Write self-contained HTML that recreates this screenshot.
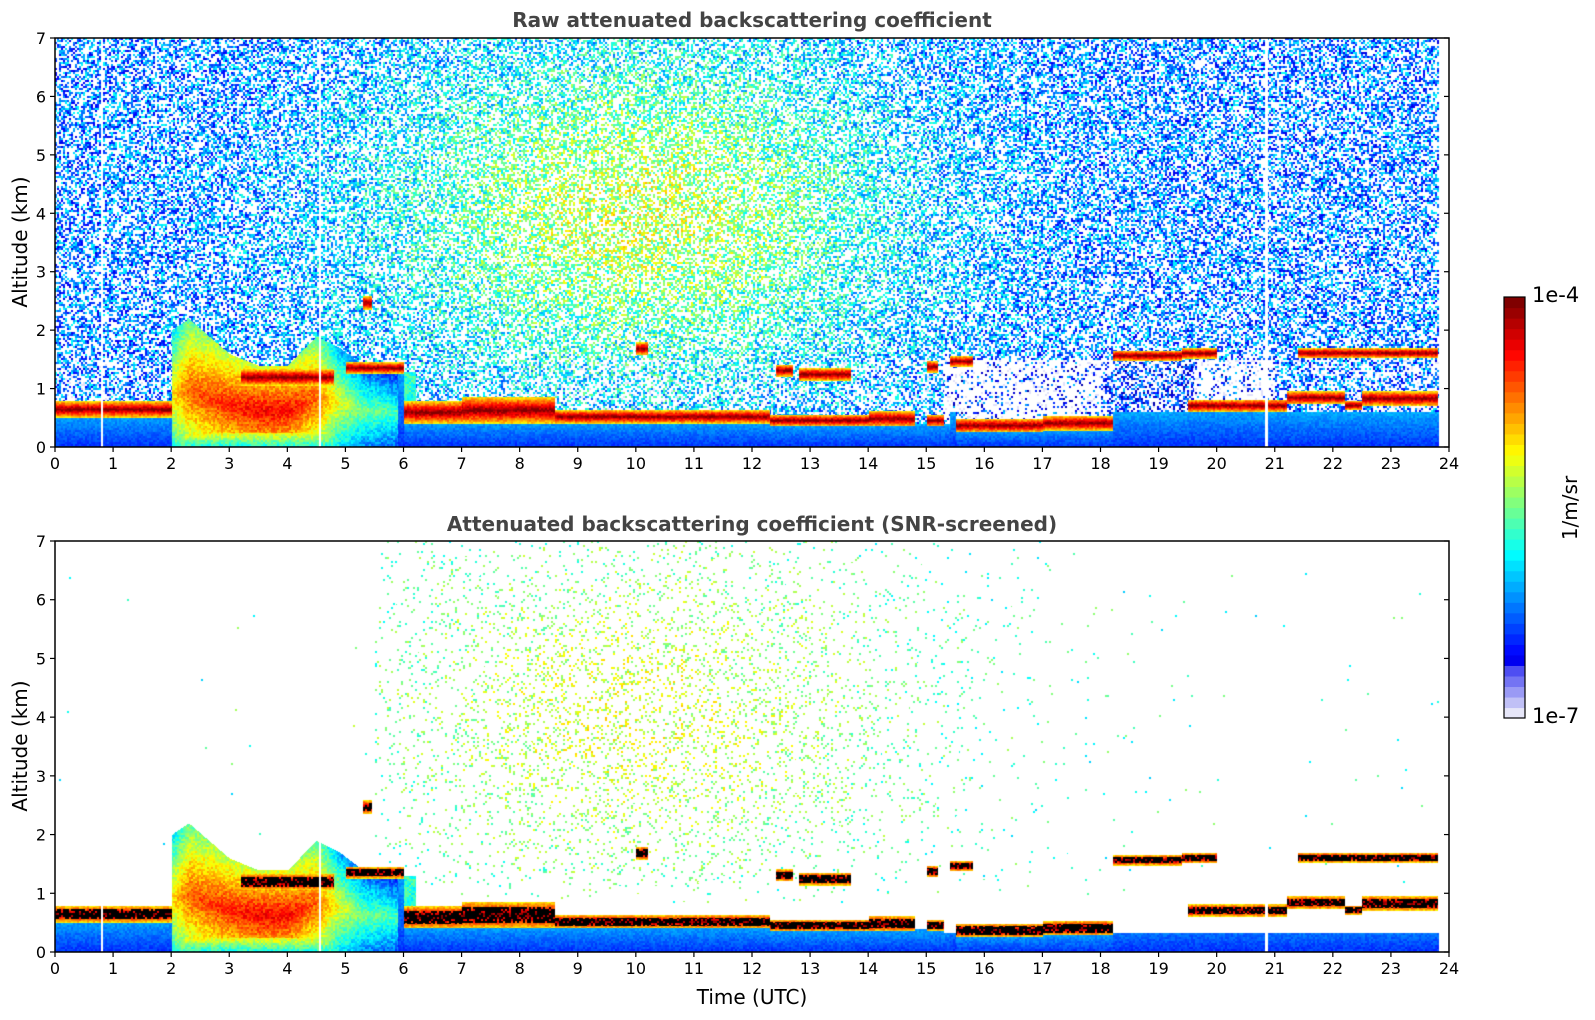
<!DOCTYPE html>
<html><head><meta charset="utf-8">
<style>
html,body{margin:0;padding:0;background:#fff;}
#root{position:relative;width:1595px;height:1020px;font-family:"DejaVu Sans","Liberation Sans",sans-serif;color:#000;overflow:hidden}
canvas{position:absolute}
.t{position:absolute;white-space:nowrap}
</style></head>
<body>
<div id="root">
<canvas id="c1" style="left:55px;top:38px" width="1394" height="409"></canvas>
<canvas id="c2" style="left:55px;top:541px" width="1394" height="411"></canvas>
<svg id="ov" width="1595" height="1020" style="position:absolute;left:0;top:0"></svg>
<div class="t" style="left:0;width:1504px;text-align:center;top:8px;font-size:20px;font-weight:bold;color:#444">Raw attenuated backscattering coefficient</div>
<div class="t" style="left:0;width:1504px;text-align:center;top:512px;font-size:20px;font-weight:bold;color:#444">Attenuated backscattering coefficient (SNR-screened)</div>
<div class="t" style="left:55px;width:1394px;text-align:center;top:985px;font-size:20px">Time (UTC)</div>
<div class="t" style="left:20px;top:242px;font-size:20px;transform:translate(-50%,-50%) rotate(-90deg)">Altitude (km)</div>
<div class="t" style="left:20px;top:746px;font-size:20px;transform:translate(-50%,-50%) rotate(-90deg)">Altitude (km)</div>
<div class="t" style="left:1532px;top:283px;font-size:21px">1e-4</div>
<div class="t" style="left:1532px;top:704px;font-size:21px">1e-7</div>
<div class="t" style="left:1570px;top:508px;font-size:20px;transform:translate(-50%,-50%) rotate(-90deg)">1/m/sr</div>
</div>
<script>
// ---- data ----
const layerStart = [0.0, 3.2, 5.0, 6.0, 7.0, 8.6, 12.3, 14.0, 15.0, 15.5, 17.0, 19.5, 21.2, 22.2, 22.5, 12.4, 12.8, 15.0, 15.4, 18.2, 19.4, 21.4, 10.0, 5.3];
const layerEnd   = [2.0, 4.8, 6.0, 7.0, 8.6, 12.3, 14.0, 14.8, 15.3, 17.0, 18.2, 21.2, 22.2, 22.5, 23.8, 12.7, 13.7, 15.2, 15.8, 19.4, 20.0, 23.8, 10.2, 5.45];
const layerBase  = [0.55, 1.1, 1.30, 0.45, 0.45, 0.45, 0.40, 0.40, 0.40, 0.30, 0.33, 0.65, 0.78, 0.68, 0.75, 1.25, 1.18, 1.32, 1.42, 1.52, 1.56, 1.57, 1.62, 2.40];
const layerTop   = [0.75, 1.3, 1.42, 0.75, 0.82, 0.60, 0.52, 0.58, 0.52, 0.45, 0.50, 0.78, 0.92, 0.76, 0.92, 1.38, 1.32, 1.44, 1.52, 1.62, 1.66, 1.66, 1.76, 2.55];
const aeroHours = [2.0, 2.3, 3.0, 3.5, 4.0, 4.5, 4.9, 5.3, 5.9];
const aeroTops  = [2.0, 2.2, 1.6, 1.4, 1.4, 1.9, 1.7, 1.4, 1.3];
const aeroCore  = [0.65, 0.78, 0.85, 0.88, 0.88, 0.78, 0.6, 0.5, 0.45];
const gapHours = [0.8, 4.55, 20.85];
const xTicks = [0,1,2,3,4,5,6,7,8,9,10,11,12,13,14,15,16,17,18,19,20,21,22,23,24];
const yTicks = [0,1,2,3,4,5,6,7];

function jet(t){t=Math.max(0,Math.min(1,t));
  const r=Math.min(4*t-1.5,-4*t+4.5),g=Math.min(4*t-0.5,-4*t+3.5),b=Math.min(4*t+0.5,-4*t+2.5);
  return [Math.max(0,Math.min(1,r))*255,Math.max(0,Math.min(1,g))*255,Math.max(0,Math.min(1,b))*255];}
function interp(xs,ys,x){if(x<=xs[0])return ys[0];for(let i=1;i<xs.length;i++){if(x<=xs[i]){const f=(x-xs[i-1])/(xs[i]-xs[i-1]);return ys[i-1]+f*(ys[i]-ys[i-1]);}}return ys[ys.length-1];}
// deterministic texture hash (speckle only)
function hsh(a,b){let n=(a*374761393+b*668265263)|0;n=(n^(n>>>13))*1274126177|0;n=n^(n>>>16);return ((n>>>0)%10000)/10000;}
function layerAt(h,km){for(let i=0;i<layerStart.length;i++){if(h>=layerStart[i]&&h<=layerEnd[i]&&km>=layerBase[i]-0.04&&km<=layerTop[i]+0.04){const mid=(layerBase[i]+layerTop[i])/2,half=(layerTop[i]-layerBase[i])/2;return {rel:Math.abs(km-mid)/(half+0.04)};}}return null;}
function groundTop(h){let g=0.6;if(h>=6&&h<15.4)g=interp([6,8.6,12.3,14,15.3],[0.45,0.45,0.4,0.4,0.4],h);for(let i=0;i<12;i++){if(h>=layerStart[i]&&h<=layerEnd[i])g=Math.min(layerBase[i],h<2?0.58:layerBase[i]);}return g;}

function render(id,snr){
  const cv=document.getElementById(id),W=cv.width,H=cv.height,ctx=cv.getContext('2d');
  const img=ctx.createImageData(W,H),d=img.data;
  for(let py=0;py<H;py++){for(let px=0;px<W;px++){
    const h=px/W*24,km=(H-py)/H*7;let c=[255,255,255];
    const cx=px>>1,cy=py>>1;const r1=hsh(cx,cy+(snr?7777:0)),r2=hsh(cy+13,cx+991);
    let gap=false;for(const g of gapHours){if(Math.abs(h-g)<0.02)gap=true;}
    if(h>23.82||gap){}
    else{
      const L=layerAt(h,km);
      const inAero=h>=2&&h<=5.9&&km<interp(aeroHours,aeroTops,h);
      const gt=groundTop(h);
      if(L){ if(snr&&L.rel<0.6&&r1<0.75)c=[0,0,0]; else c=jet(1.0-L.rel*0.35+ (r2-0.5)*0.1);}
      else if(inAero){const top=interp(aeroHours,aeroTops,h),rel=km/top;
        let t=interp(aeroHours,aeroCore,h)-0.3*Math.abs(rel-0.45)/0.55;if(km<0.25)t=Math.min(t,0.38+km);
        t+= (r2-0.5)*0.12; c=jet(t);}
      else if(km<(snr&&h>15.3?0.33:gt)||(snr&&km<0.33)){c=jet(0.17+(km/Math.max(gt,0.3))*0.12+(r2-0.5)*0.06);}
      else if(h>5.9&&h<6.2&&km<1.3){c=jet(0.35+r2*0.15);}
      else{
        const cen=Math.exp(-Math.pow((h-10)/4.5,2)-Math.pow((km-4)/3,2));
        if(!snr){
          let pw=0.5,tm=0.24+0.32*cen;
          if(km<1.5&&h>15.3&&h<21){pw=h>18&&h<19.6?0.55:0.85;tm=0.18;}
          else if(km<1.5)pw=0.55;
          if(r1>pw)c=jet(tm+(r2-0.5)*0.3); else if(r1>pw-0.06&&km<1.5)c=[225,225,250];
        }else{
          const p=(km>0.8&&h>5.5?0.18*cen*Math.min(1,(km-0.8)*2):0)+0.0008;
          if(r1<p)c=jet(0.42+0.17*cen+(r2-0.5)*0.2);
        }
      }
    }
    const k=(py*W+px)*4;d[k]=c[0];d[k+1]=c[1];d[k+2]=c[2];d[k+3]=255;}}
  ctx.putImageData(img,0,0);
}
render('c1',false);render('c2',true);

// ---- axes ----
const ov=document.getElementById('ov');const NS='http://www.w3.org/2000/svg';
function el(tag,attrs,parent){const e=document.createElementNS(NS,tag);for(const k in attrs)e.setAttribute(k,attrs[k]);(parent||ov).appendChild(e);return e;}
const panels=[{x:55,y:38,w:1394,h:409,name:'top'},{x:55,y:541,w:1394,h:411,name:'bottom'}];
panels.forEach(p=>{
  const xs=v=>p.x+v/24*p.w, ys=v=>p.y+p.h-v/7*p.h;
  const fr=el('rect',{x:p.x,y:p.y,width:p.w,height:p.h,fill:'none',stroke:'#000','stroke-width':1.5});
  
  
  xTicks.forEach(v=>{const ln=el('line',{x1:xs(v),x2:xs(v),y1:p.y+p.h,y2:p.y+p.h+5,stroke:'#000','stroke-width':1.2});
    
    
    const t=el('text',{x:xs(v),y:p.y+p.h+22,'text-anchor':'middle','font-size':16,'font-family':'DejaVu Sans, Liberation Sans, sans-serif'});t.textContent=v;
    
    });
  yTicks.forEach(v=>{const ln=el('line',{x1:p.x-5,x2:p.x,y1:ys(v),y2:ys(v),stroke:'#000','stroke-width':1.2});
    
    
    const ln2=el('line',{x1:p.x+p.w-5,x2:p.x+p.w,y1:ys(v),y2:ys(v),stroke:'#000','stroke-width':1.2});
    
    
    const t=el('text',{x:p.x-9,y:ys(v)+6,'text-anchor':'end','font-size':16,'font-family':'DejaVu Sans, Liberation Sans, sans-serif'});t.textContent=v;
    
    });
});
// colorbar
const cbX=1504,cbY=297,cbW=21,cbH=421,N=40;
for(let i=0;i<N;i++){let col;
  if(i<5){const a=[230,230,248],b=[40,40,240];const f=i/5;col=[a[0]+(b[0]-a[0])*f,a[1]+(b[1]-a[1])*f,a[2]+(b[2]-a[2])*f];}
  else col=jet(0.11+0.89*(i-5)/(N-6));
  const r=el('rect',{x:cbX,y:cbY+cbH-(i+1)*cbH/N,width:cbW,height:cbH/N+0.6,fill:`rgb(${col.map(Math.round).join(',')})`});
  
  }
const cbf=el('rect',{x:cbX,y:cbY,width:cbW,height:cbH,fill:'none',stroke:'#000','stroke-width':1.2});


</script>
</body></html>
